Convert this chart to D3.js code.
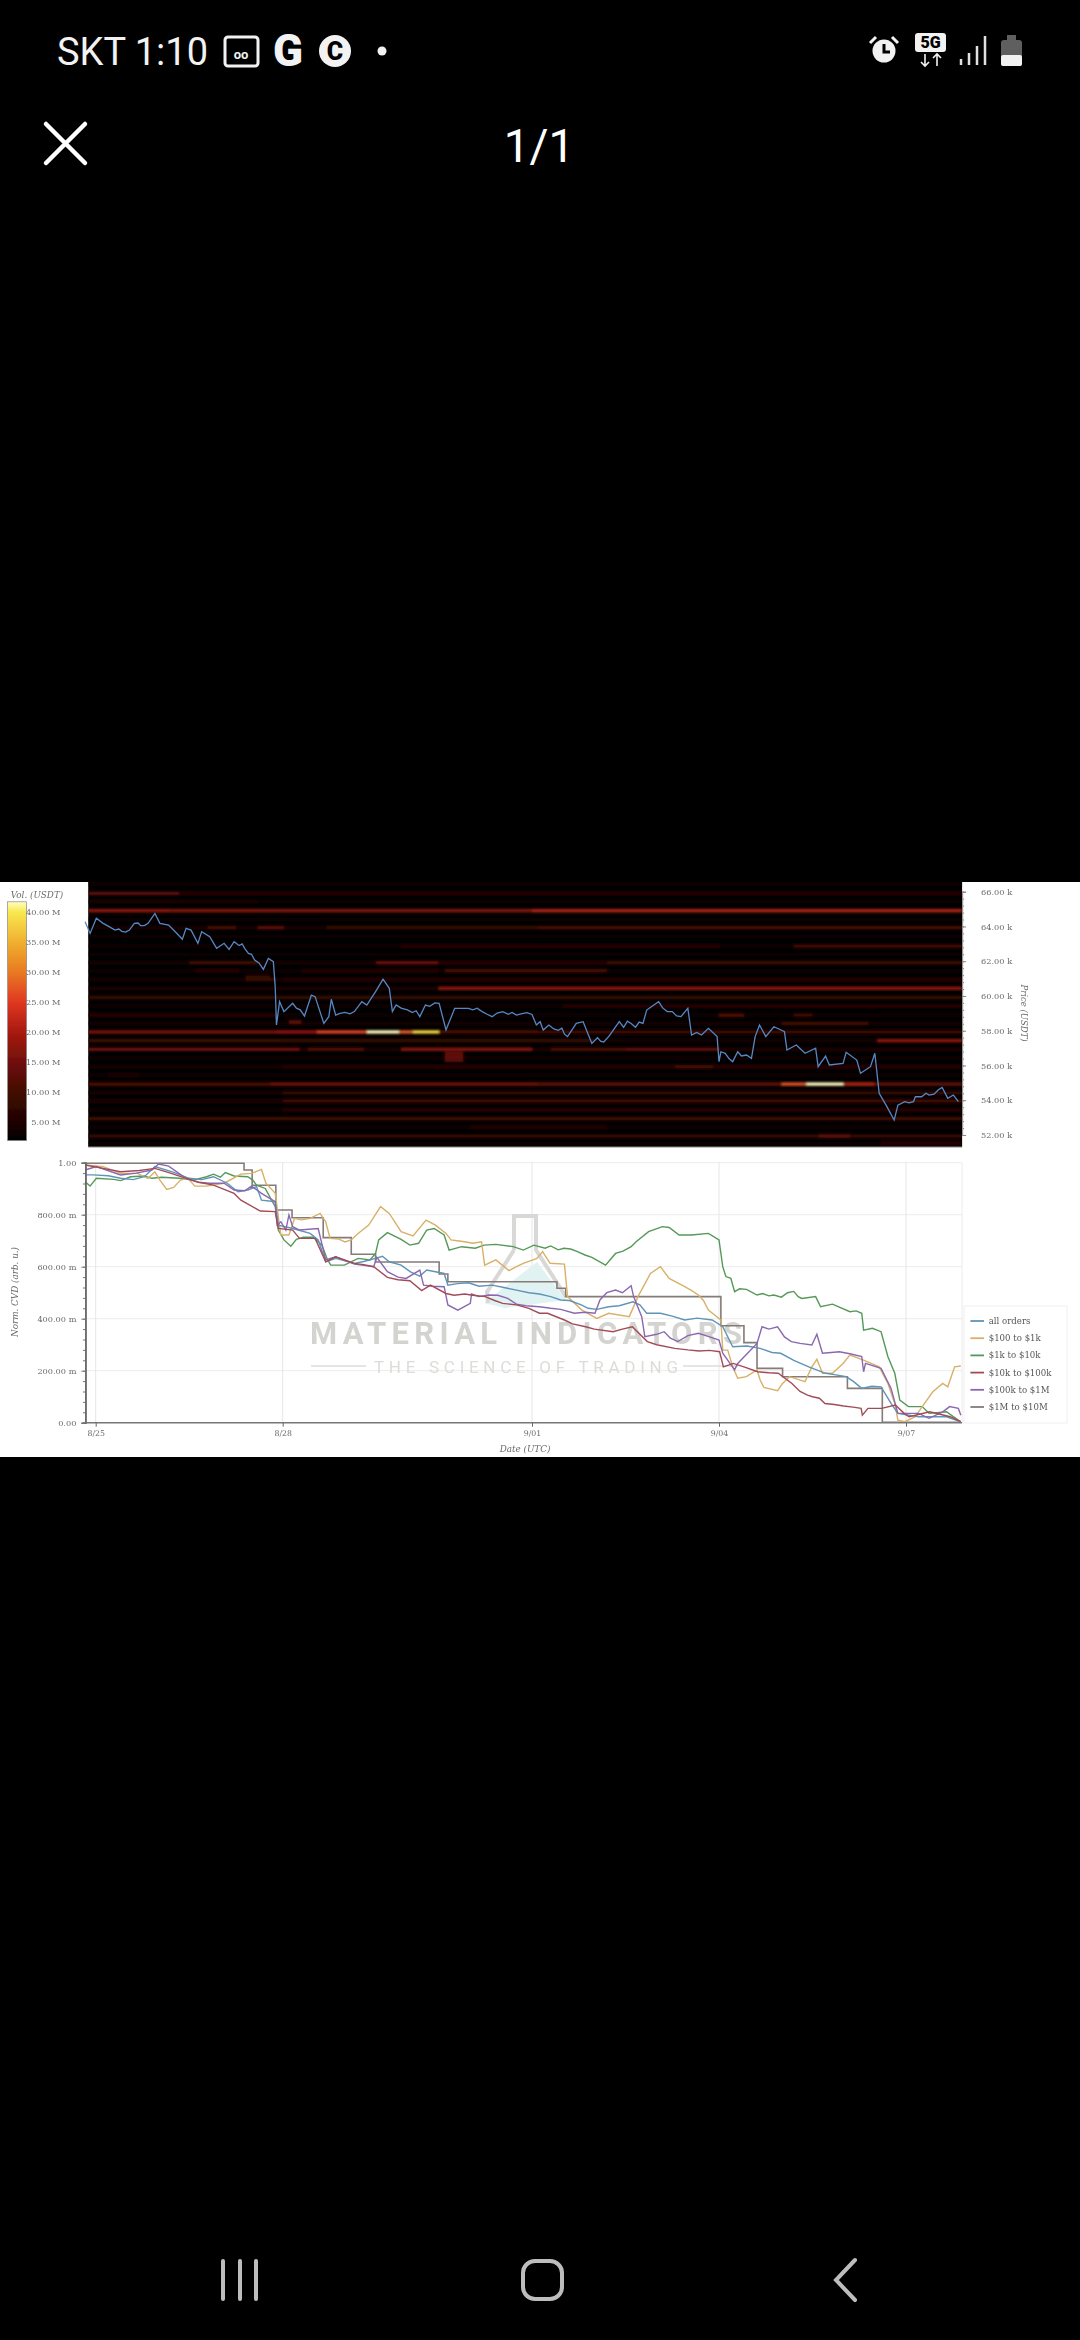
<!DOCTYPE html>
<html><head><meta charset="utf-8">
<script src="https://cdn.jsdelivr.net/npm/d3@7/dist/d3.min.js"></script>
<style>html,body{margin:0;padding:0;background:#000}svg{display:block}</style></head>
<body><svg id="c" width="1080" height="2340"></svg>
<script>
// ---------- data ----------
const dayTicks=[0,3,7,10,13];
const dayLabels=["8/25","8/28","9/01","9/04","9/07"];
const priceTicks=[52,54,56,58,60,62,64,66];
const volTicks=[5,10,15,20,25,30,35,40];
const cvdTicks=[0,.2,.4,.6,.8,1];
const cvdLabels=["0.00","200.00 m","400.00 m","600.00 m","800.00 m","1.00"];
const seriesNames=["all orders","$100 to $1k","$1k to $10k","$10k to $100k","$100k to $1M","$1M to $10M"];
const seriesColors=["#5f93b8","#d8b068","#559858","#a24c58","#8a68b0","#857b79"];
const colorStops=[0,5,10,15,20,25,30,35,40,41.7];
const colorValues=["#000000","#1e0402","#420a05","#701008","#a81a10","#e03820","#e87a20","#efb030","#f8e850","#ffffc0"];

const price=[[-.17,64.27],[-.09,63.6],[.01,64.47],[.12,64.18],[.2,64.02],[.31,63.79],[.37,63.85],[.42,63.72],[.48,63.68],[.54,63.79],[.62,64.18],[.68,64.2],[.72,64.05],[.78,64.05],[.84,64.18],[.95,64.75],[1.03,64.18],[1.17,64.08],[1.28,63.68],[1.39,63.26],[1.45,63.89],[1.53,63.79],[1.64,63.03],[1.7,63.7],[1.83,63.41],[1.94,62.74],[2.06,63.03],[2.14,62.68],[2.22,63.12],[2.3,62.9],[2.35,63],[2.39,62.74],[2.45,62.45],[2.5,62.4],[2.55,62.07],[2.62,61.9],[2.69,61.53],[2.77,62.16],[2.85,61.97],[2.88,60.53],[2.9,58.33],[2.95,59.67],[3.02,59.1],[3.16,59.58],[3.22,59.3],[3.28,59.2],[3.35,58.85],[3.46,60.05],[3.52,59.96],[3.66,58.42],[3.74,58.81],[3.78,59.81],[3.85,58.9],[3.92,59],[4,59.05],[4.08,58.97],[4.15,59.1],[4.27,59.67],[4.35,59.48],[4.49,60.25],[4.61,60.97],[4.71,60.44],[4.76,59.1],[4.82,59.48],[4.9,59.3],[5,59.2],[5.08,59.05],[5.14,59.15],[5.2,58.81],[5.29,59.48],[5.36,59.4],[5.44,59.6],[5.51,59.58],[5.62,58.04],[5.76,59.29],[5.98,59.29],[6.05,59.2],[6.12,59.3],[6.2,59.1],[6.28,58.95],[6.36,58.81],[6.44,59.02],[6.53,59.1],[6.62,58.95],[6.68,59.05],[6.75,58.9],[6.84,58.98],[6.92,59.04],[7,58.94],[7.07,58.33],[7.13,58.52],[7.18,58.04],[7.27,58.33],[7.35,58.1],[7.42,58.02],[7.48,58.15],[7.52,57.8],[7.57,57.66],[7.71,58.42],[7.82,58.52],[7.96,57.27],[8.05,57.6],[8.1,57.4],[8.15,57.35],[8.23,57.66],[8.4,58.52],[8.47,58.2],[8.53,58.55],[8.59,58.42],[8.66,58.2],[8.72,58.5],[8.78,58.42],[8.84,59.19],[9.03,59.67],[9.1,59.3],[9.17,59.1],[9.25,59.1],[9.32,58.85],[9.39,58.81],[9.5,59.29],[9.56,57.75],[9.64,57.9],[9.72,57.75],[9.83,58.14],[9.97,57.66],[10,56.22],[10.03,56.79],[10.1,56.7],[10.16,56.4],[10.22,56.22],[10.3,56.79],[10.36,56.55],[10.44,56.6],[10.52,56.41],[10.58,57.66],[10.65,58.33],[10.75,57.66],[10.88,58.23],[10.96,58.1],[11.05,57.94],[11.09,56.89],[11.24,57.18],[11.38,56.7],[11.55,56.99],[11.59,55.93],[11.71,56.54],[11.77,56.03],[11.99,56.12],[12.04,56.76],[12.21,56.31],[12.27,55.55],[12.43,55.93],[12.5,56.7],[12.57,54.4],[12.68,53.72],[12.81,52.86],[12.87,53.72],[12.98,53.92],[13.05,53.85],[13.12,53.92],[13.15,54.2],[13.25,54.2],[13.32,54.4],[13.37,54.3],[13.45,54.35],[13.52,54.6],[13.58,54.74],[13.67,54.11],[13.76,54.3],[13.84,53.92]];

// faint rows that run the whole width of the heatmap
const heatLevels=[66.44,65.9,65.42,64.91,64.4,63.93,63.4,62.87,62.4,61.91,61.45,60.94,60.44,59.92,59.42,58.9,58.42,57.93,57.43,56.93,56.41,55.93,55.45,54.93,54.43,53.96,53.44,52.94,52.44,51.94,51.52];
const heatBaseVol=[3,4,2.5,6,2,4,2,3.5,2,4,3,4,5,4,3,3.5,3,6,3.5,5,3,4,2.5,6,4,5,3.5,5,3,5,2.5];
// [price level, from day, to day, volume in millions]
const heatSegments=[[65.9,-.12,1.34,13],[65.9,1.34,13.9,7],[65.42,-.12,2.6,5],[64.91,-.12,1.2,18],[64.91,1.2,7,17],[64.91,7,13.9,21],[63.93,1.8,2.25,11],[63.93,2.6,3.02,13],[63.93,3.7,7.1,8],[63.93,7.1,13.9,11],[62.87,4.9,10,7],[62.87,11.2,13.9,10],[61.91,1.5,2.6,10],[61.91,4.5,5.5,15],[61.91,5.5,8.2,7],[61.91,8.2,13.9,9],[61.45,1.6,2.3,7],[61.45,3.3,5.5,6],[61.45,5.6,8.2,11],[61.1,2.4,2.8,8],[60.94,2.4,2.9,8],[60.94,3,13.9,7],[60.44,5.5,13.9,18],[59.92,-.12,3,8],[59.92,3,13.9,8],[59.42,7.5,13.9,7],[58.9,-.12,2.9,7],[58.9,10,10.4,12],[58.9,11.2,11.5,10],[58.42,11,12.4,10],[58.5,3.1,3.3,14],[57.93,-.12,2.88,16],[57.93,2.88,3.55,18],[57.93,3.55,4.35,26],[57.93,4.35,4.87,41.7],[57.93,4.87,5.09,28],[57.93,5.09,5.51,39],[57.93,5.51,7.1,11],[57.93,7.1,13.9,9],[57.43,-.12,3,9],[57.43,3,8,8],[57.43,12.54,13.9,18],[56.93,-.12,3.27,15],[56.93,3.4,4.3,12],[56.93,4.9,7,17],[56.93,7.3,8.5,11],[56.93,8.5,10,13],[56.7,5.6,5.9,14],[56.5,5.6,5.9,14],[56.3,5.6,5.9,13],[55.93,3,13.9,7],[55.93,9.3,9.9,11],[55.45,.2,.7,5],[54.93,-.12,2.8,11],[54.93,2.8,7.1,15],[54.93,7.1,11,13],[54.93,11,11.4,27],[54.93,11.4,12,41.7],[54.93,12,12.5,21],[54.93,12.5,13.9,13],[54.43,3,13.9,8],[53.96,3,13.9,10],[53.44,3,13.9,7],[52.94,-.12,13.9,10],[52.44,6,8.2,6],[51.94,-.12,13.9,8],[51.94,11.6,12.1,13],[51.52,12.6,13.9,7]];

const cvdAll=[[-.17,.953],[-.04,.953],[.2,.95],[.4,.94],[.6,.935],[.78,.946],[.95,.985],[1.23,.965],[1.5,.94],[1.7,.935],[1.89,.946],[2.11,.921],[2.28,.888],[2.44,.895],[2.58,.908],[2.66,.856],[2.88,.85],[2.93,.76],[3.16,.747],[3.44,.728],[3.57,.703],[3.69,.619],[3.85,.632],[4.15,.613],[4.3,.62],[4.49,.632],[4.6,.64],[4.71,.619],[4.9,.606],[5.05,.58],[5.2,.564],[5.31,.587],[5.59,.574],[5.65,.529],[5.8,.535],[5.98,.538],[6.15,.525],[6.36,.529],[6.55,.52],[6.75,.51],[6.95,.5],[7.12,.495],[7.3,.485],[7.46,.472],[7.6,.47],[7.79,.453],[7.9,.44],[8.04,.436],[8.23,.446],[8.4,.45],[8.62,.465],[8.73,.453],[8.84,.421],[9.06,.421],[9.25,.41],[9.45,.395],[9.65,.402],[9.89,.395],[10.06,.369],[10.22,.292],[10.45,.295],[10.66,.286],[10.85,.27],[10.99,.267],[11.2,.24],[11.44,.215],[11.71,.19],[11.85,.185],[12.04,.177],[12.15,.16],[12.29,.132],[12.45,.14],[12.6,.138],[12.76,.074],[12.87,.036],[13.2,.023],[13.65,.023],[13.87,.004]];
const cvd100=[[-.17,.991],[.12,.985],[.4,.959],[.67,.959],[.84,.94],[.95,.965],[1.03,.933],[1.14,.897],[1.25,.905],[1.36,.933],[1.48,.94],[1.59,.91],[1.78,.91],[2.06,.921],[2.33,.956],[2.5,.959],[2.66,.974],[2.73,.921],[2.88,.882],[2.93,.792],[2.97,.722],[3.1,.722],[3.19,.786],[3.3,.78],[3.44,.786],[3.6,.805],[3.69,.773],[3.76,.709],[3.9,.706],[4,.695],[4.1,.703],[4.21,.728],[4.38,.76],[4.57,.831],[4.71,.805],[4.9,.735],[5.09,.718],[5.3,.779],[5.45,.76],[5.62,.728],[5.7,.703],[5.8,.7],[5.92,.696],[6.05,.69],[6.19,.696],[6.24,.606],[6.42,.626],[6.63,.585],[6.75,.6],[6.86,.613],[7.08,.632],[7.17,.658],[7.29,.613],[7.52,.61],[7.57,.485],[7.8,.433],[8.04,.401],[8.23,.421],[8.56,.408],[8.7,.485],[8.9,.574],[9.06,.6],[9.2,.555],[9.45,.523],[9.55,.51],[9.67,.491],[9.75,.47],[9.83,.433],[10.03,.395],[10.06,.279],[10.14,.279],[10.22,.215],[10.3,.171],[10.44,.177],[10.61,.203],[10.66,.164],[10.72,.136],[10.94,.123],[11.02,.151],[11.13,.177],[11.38,.158],[11.49,.215],[11.57,.244],[11.66,.19],[11.82,.19],[11.99,.228],[12.1,.26],[12.32,.241],[12.57,.215],[12.71,.151],[12.82,.074],[12.87,.01],[12.98,.004],[13.15,.023],[13.26,.062],[13.43,.119],[13.59,.151],[13.67,.138],[13.78,.215],[13.88,.218]];
const cvd1k=[[-.17,.927],[-.09,.91],[.01,.94],[.29,.936],[.4,.931],[.56,.946],[.78,.949],[.9,.94],[1.06,.944],[1.34,.94],[1.56,.933],[1.78,.946],[1.89,.956],[2,.944],[2.08,.962],[2.22,.949],[2.44,.946],[2.52,.933],[2.58,.914],[2.72,.901],[2.88,.831],[2.93,.741],[3.02,.703],[3.13,.679],[3.22,.705],[3.33,.713],[3.49,.713],[3.63,.683],[3.71,.632],[3.77,.606],[3.91,.606],[3.99,.606],[4.21,.632],[4.4,.626],[4.49,.651],[4.54,.703],[4.68,.731],[4.9,.705],[5.04,.683],[5.18,.69],[5.31,.741],[5.43,.747],[5.59,.722],[5.67,.664],[5.87,.677],[6.09,.671],[6.23,.683],[6.42,.686],[6.7,.677],[6.86,.664],[7.03,.683],[7.21,.671],[7.3,.68],[7.42,.665],[7.51,.671],[7.62,.668],[7.73,.658],[7.85,.645],[7.96,.636],[8.18,.606],[8.34,.651],[8.46,.66],[8.59,.677],[8.67,.696],[8.87,.735],[9.09,.754],[9.2,.751],[9.36,.722],[9.56,.722],[9.83,.728],[10,.703],[10.06,.6],[10.11,.562],[10.19,.555],[10.25,.504],[10.33,.515],[10.44,.513],[10.61,.491],[10.7,.497],[10.8,.488],[10.88,.491],[11,.483],[11.1,.5],[11.2,.505],[11.27,.485],[11.33,.478],[11.55,.485],[11.63,.446],[11.82,.456],[12.1,.427],[12.2,.43],[12.29,.421],[12.32,.356],[12.46,.363],[12.6,.35],[12.71,.254],[12.82,.19],[12.9,.087],[13.04,.062],[13.26,.062],[13.37,.036],[13.65,.042],[13.87,.004]];
const cvd10k=[[-.17,.991],[.12,.978],[.4,.965],[.7,.97],[.95,.978],[1.2,.96],[1.45,.94],[1.65,.925],[1.89,.914],[2.22,.882],[2.33,.856],[2.64,.814],[2.88,.812],[2.93,.747],[3.16,.741],[3.27,.709],[3.52,.709],[3.69,.619],[3.85,.638],[4.15,.613],[4.3,.608],[4.46,.6],[4.68,.559],[4.85,.55],[5.04,.546],[5.23,.508],[5.37,.529],[5.62,.497],[5.75,.49],[5.92,.495],[6.05,.49],[6.25,.485],[6.4,.47],[6.53,.459],[6.75,.453],[6.95,.44],[7.12,.421],[7.25,.421],[7.52,.395],[7.65,.38],[7.86,.369],[8,.36],[8.3,.35],[8.45,.36],[8.61,.369],[8.85,.312],[9,.3],[9.29,.286],[9.5,.28],[9.68,.276],[9.85,.278],[10.01,.273],[10.07,.215],[10.23,.228],[10.4,.215],[10.62,.196],[10.8,.192],[10.95,.19],[11.17,.151],[11.3,.12],[11.42,.106],[11.5,.1],[11.61,.094],[11.7,.074],[11.85,.07],[12,.064],[12.15,.06],[12.28,.055],[12.3,.029],[12.39,.055],[12.61,.055],[12.83,.068],[12.97,.036],[13.05,.023],[13.38,.042],[13.71,.023],[13.88,.004]];
const cvd100k=[[-.17,.972],[.01,.985],[.4,.953],[.65,.96],[.9,.972],[1.01,.995],[1.17,.987],[1.45,.94],[1.65,.925],[1.83,.921],[2.06,.921],[2.22,.895],[2.39,.892],[2.5,.91],[2.66,.882],[2.88,.85],[2.91,.76],[2.97,.773],[3.05,.741],[3.1,.799],[3.16,.754],[3.27,.741],[3.57,.747],[3.69,.626],[3.85,.638],[4.15,.61],[4.3,.605],[4.46,.6],[4.51,.636],[4.68,.581],[4.85,.56],[4.98,.555],[5.2,.587],[5.26,.529],[5.4,.525],[5.59,.523],[5.65,.453],[5.81,.433],[6.01,.459],[6.03,.495],[6.15,.485],[6.31,.491],[6.45,.49],[6.61,.478],[6.75,.456],[6.9,.45],[7.12,.446],[7.3,.44],[7.46,.436],[7.68,.421],[7.85,.425],[8.01,.421],[8.09,.472],[8.2,.5],[8.34,.51],[8.45,.5],[8.59,.527],[8.63,.485],[8.76,.408],[8.81,.331],[9,.34],[9.12,.35],[9.22,.325],[9.34,.312],[9.5,.335],[9.67,.344],[9.85,.33],[10,.318],[10.06,.267],[10.25,.203],[10.3,.228],[10.61,.305],[10.69,.369],[10.8,.36],[10.94,.369],[11.05,.33],[11.16,.312],[11.3,.305],[11.49,.299],[11.57,.34],[11.66,.267],[11.8,.27],[11.93,.273],[12.1,.265],[12.29,.254],[12.32,.196],[12.35,.228],[12.6,.209],[12.76,.132],[12.87,.036],[13.2,.036],[13.37,.017],[13.59,.042],[13.7,.062],[13.84,.055],[13.88,.029]];
const cvd1m=[[-.17,.998],[2.38,.972],[2.51,.913],[2.89,.818],[3.15,.788],[3.65,.712],[4.1,.648],[4.49,.618],[5.51,.572],[5.65,.542],[7.4,.517],[7.54,.485],[10.03,.373],[10.4,.308],[10.61,.209],[11.02,.177],[12.06,.132],[12.62,.002],[13.88,.002]];

// ---------- scales ----------
const x=d3.scaleLinear().domain([0,13]).range([95.7,906]);
const yP=d3.scaleLinear().domain([52,66]).range([1135,891.7]);
const yC=d3.scaleLinear().domain([0,1]).range([1422.7,1162.7]);
const yV=d3.scaleLinear().domain([5,40]).range([1122,912]);
const color=d3.scaleLinear().domain(colorStops).range(colorValues).clamp(true);
const serif='"DejaVu Serif",serif', txt="#6a6a6a";

const svg=d3.select("#c");
const defs=svg.append("defs");
defs.append("filter").attr("id","soft").attr("filterUnits","userSpaceOnUse").attr("x",0).attr("y",870).attr("width",1080).attr("height",600)
  .append("feGaussianBlur").attr("stdDeviation",.5);
defs.append("filter").attr("id","soft2").attr("filterUnits","userSpaceOnUse").attr("x",0).attr("y",870).attr("width",1080).attr("height",300)
  .append("feGaussianBlur").attr("stdDeviation",.9);
const grad=defs.append("linearGradient").attr("id","volBar").attr("x1",0).attr("x2",0).attr("y1",1).attr("y2",0);
grad.selectAll("stop").data(colorStops.filter(d=>d>=0)).join("stop")
  .attr("offset",d=>Math.max(0,(d-1.9)/(41.7-1.9))).attr("stop-color",d=>color(d));
svg.append("rect").attr("width",1080).attr("height",2340).attr("fill","#000");

// ---------- reference picture area ----------
const chart=svg.append("g").attr("filter","url(#soft)");
chart.append("rect").attr("x",0).attr("y",882).attr("width",1080).attr("height",575).attr("fill","#fff");

// heatmap
const hx0=x(-.12),hx1=x(13.9);
chart.append("rect").attr("x",hx0).attr("y",882).attr("width",hx1-hx0).attr("height",265).attr("fill","#060000");
const heatClip=defs.append("clipPath").attr("id","heatClip").append("rect").attr("x",hx0).attr("y",882).attr("width",hx1-hx0).attr("height",265);
const heat=chart.append("g").attr("clip-path","url(#heatClip)").append("g").attr("filter","url(#soft2)");
heat.selectAll("rect.base").data(heatLevels).join("rect").attr("class","base")
  .attr("x",hx0).attr("width",hx1-hx0)
  .attr("y",d=>yP(d)-1.6).attr("height",3.2).attr("fill",(d,i)=>color(heatBaseVol[i]));
heat.selectAll("rect.seg").data(heatSegments).join("rect").attr("class","seg")
  .attr("x",d=>x(d[1])).attr("width",d=>x(d[2])-x(d[1]))
  .attr("y",d=>yP(d[0])-1.6).attr("height",3.2).attr("fill",d=>color(d[3]));
chart.append("path").attr("d",d3.line().x(d=>x(d[0])).y(d=>yP(d[1]))(price))
  .attr("fill","none").attr("stroke","#5488c4").attr("stroke-width",1.3);
chart.append("line").attr("x1",hx0).attr("x2",hx1).attr("y1",1147).attr("y2",1147).attr("stroke","#888").attr("stroke-width",1);

// price axis
const pAxis=chart.append("g").attr("transform",`translate(${hx1},0)`);
pAxis.call(d3.axisRight(yP).tickValues(d3.range(52,66.01,.4)).tickSize(2).tickFormat(""));
pAxis.append("g").call(d3.axisRight(yP).tickValues(priceTicks).tickSize(4).tickFormat(d=>d3.format(".2f")(d)+" k"));
pAxis.selectAll("path.domain").attr("stroke","#999");
pAxis.selectAll("line").attr("stroke","#888");
pAxis.selectAll("text").attr("x",19).attr("fill",txt).attr("font-family",serif).attr("font-size",8.2).attr("font-weight",500);
chart.append("text").attr("transform","translate(1021,1013) rotate(90)").attr("text-anchor","middle")
  .attr("font-family",serif).attr("font-style","italic").attr("font-size",8.5).attr("fill",txt).text("Price (USDT)");

// colour bar
const bar=chart.append("g");
bar.append("rect").attr("x",7.6).attr("width",19).attr("y",yV(41.7)).attr("height",yV(1.9)-yV(41.7)).attr("fill","url(#volBar)").attr("stroke","#888").attr("stroke-width",.7);
bar.selectAll("text").data(volTicks).join("text").attr("x",60.5).attr("y",d=>yV(d)+3).attr("text-anchor","end")
  .attr("font-family",serif).attr("font-size",8.2).attr("font-weight",500).attr("fill",txt).text(d=>d3.format(".2f")(d)+" M");
chart.append("text").attr("x",37).attr("y",898).attr("text-anchor","middle").attr("font-family",serif).attr("font-style","italic").attr("font-size",8.8).attr("fill",txt).text("Vol. (USDT)");

// lower chart grid
const gridG=chart.append("g");
gridG.selectAll("line.h").data(cvdTicks).join("line").attr("class","h").attr("x1",85.4).attr("x2",hx1).attr("y1",d=>yC(d)).attr("y2",d=>yC(d)).attr("stroke","#ececec");
gridG.selectAll("line.v").data(dayTicks).join("line").attr("class","v").attr("x1",d=>x(d)).attr("x2",d=>x(d)).attr("y1",yC(1)).attr("y2",yC(0)).attr("stroke","#e6e6e6");
gridG.append("line").attr("x1",hx1).attr("x2",hx1).attr("y1",yC(1)).attr("y2",yC(0)).attr("stroke","#ececec");

// watermark
const wm=chart.append("g");
wm.append("path").attr("d","M484 1303 L537 1262 L566 1300 L505 1308 Z").attr("fill","#e0f2f2");
wm.append("path").attr("d","M514 1250 L514 1216 L536 1216 L536 1250 L566 1297 M514 1250 L487 1292 L488 1303").attr("fill","none").attr("stroke","#d8d8d6").attr("stroke-width",4);
wm.append("text").attr("x",310).attr("y",1344).attr("textLength",432).attr("lengthAdjust","spacing").attr("font-family","Roboto").attr("font-weight",700).attr("font-size",31).attr("fill","#d3d3cf").text("MATERIAL INDICATORS");
wm.append("text").attr("x",374).attr("y",1373).attr("textLength",304).attr("lengthAdjust","spacing").attr("font-family","Roboto").attr("font-size",17).attr("fill","#dcdcd9").text("THE SCIENCE OF TRADING");
wm.append("line").attr("x1",311).attr("x2",366).attr("y1",1366).attr("y2",1366).attr("stroke","#dcdcd9").attr("stroke-width",1.5);
wm.append("line").attr("x1",683).attr("x2",738).attr("y1",1366).attr("y2",1366).attr("stroke","#dcdcd9").attr("stroke-width",1.5);

// lines
const line=d3.line().x(d=>x(d[0])).y(d=>yC(d[1]));
const stepLine=d3.line().curve(d3.curveStepAfter).x(d=>x(d[0])).y(d=>yC(d[1]));
chart.append("path").attr("d",stepLine(cvd1m)).attr("fill","none").attr("stroke",seriesColors[5]).attr("stroke-width",1.6);
[[cvd1k,2],[cvd100,1],[cvdAll,0],[cvd100k,4],[cvd10k,3]].forEach(([s,i])=>{
  chart.append("path").attr("d",line(s)).attr("fill","none").attr("stroke",seriesColors[i]).attr("stroke-width",1.4);
});

// lower axes
const lAxis=chart.append("g").attr("transform","translate(85.4,0)");
lAxis.call(d3.axisLeft(yC).tickValues(d3.range(0,1.001,.04)).tickSize(2.5).tickFormat(""));
const lMaj=lAxis.append("g").call(d3.axisLeft(yC).tickValues(cvdTicks).tickSize(4).tickFormat((d,i)=>cvdLabels[i]));
lAxis.selectAll("path.domain").attr("stroke","#666").attr("stroke-width",1.4);
lAxis.selectAll("line").attr("stroke","#777");
lMaj.selectAll("text").attr("x",-9).attr("fill",txt).attr("font-family",serif).attr("font-size",8.2).attr("font-weight",500);
const bAxis=chart.append("g").attr("transform",`translate(0,${yC(0)})`);
bAxis.call(d3.axisBottom(x).tickValues(dayTicks).tickSize(4).tickSizeOuter(0).tickFormat((d,i)=>dayLabels[i]));
bAxis.select("path.domain").attr("d",`M85.4,0H${hx1}`).attr("stroke","#777").attr("stroke-width",1.6);
bAxis.selectAll("line").attr("stroke","#666");
bAxis.selectAll("text").attr("y",8).attr("fill",txt).attr("font-family",serif).attr("font-size",7.8).attr("font-weight",500);
chart.append("text").attr("transform","translate(18,1292) rotate(-90)").attr("text-anchor","middle").attr("font-family",serif).attr("font-style","italic").attr("font-size",8.8).attr("fill",txt).text("Norm. CVD (arb. u.)");
chart.append("text").attr("x",525).attr("y",1452).attr("text-anchor","middle").attr("font-family",serif).attr("font-style","italic").attr("font-size",8.8).attr("fill",txt).text("Date (UTC)");

// legend
const lg=chart.append("g");
lg.append("rect").attr("x",964).attr("y",1306).attr("width",103).attr("height",117).attr("fill","#fff").attr("stroke","#f0f0f0");
const ly=d3.scalePoint().domain(seriesNames).range([1321,1407]);
seriesNames.forEach((n,i)=>{
  lg.append("line").attr("x1",970.4).attr("x2",984).attr("y1",ly(n)).attr("y2",ly(n)).attr("stroke",seriesColors[i]).attr("stroke-width",1.8);
  lg.append("text").attr("x",988.7).attr("y",ly(n)+3).attr("font-family",serif).attr("font-size",8.6).attr("font-weight",500).attr("fill","#555").text(n);
});

// ---------- phone chrome ----------
const ui=svg.append("g").attr("fill","#f2f2f2");
ui.append("text").attr("x",57).attr("y",65).attr("font-family","Roboto").attr("font-size",38).text("SKT 1:10");
ui.append("rect").attr("x",225).attr("y",37).attr("width",33).attr("height",29).attr("rx",3).attr("fill","none").attr("stroke","#f2f2f2").attr("stroke-width",3);
ui.append("text").attr("x",241).attr("y",59).attr("text-anchor","middle").attr("font-family","Roboto").attr("font-weight",700).attr("font-size",13).text("oo");
ui.append("text").attr("x",288).attr("y",66).attr("text-anchor","middle").attr("font-family","Roboto").attr("font-weight",900).attr("font-size",44).text("G");
ui.append("circle").attr("cx",335).attr("cy",51).attr("r",16);
ui.append("text").attr("x",335).attr("y",60).attr("text-anchor","middle").attr("font-family","Roboto").attr("font-weight",900).attr("font-size",25).attr("fill","#000").text("C");
ui.append("circle").attr("cx",382).attr("cy",51).attr("r",4.5);
ui.append("circle").attr("cx",884).attr("cy",51).attr("r",11.5);
ui.append("path").attr("d","M884 44 V52 H890").attr("fill","none").attr("stroke","#000").attr("stroke-width",3);
ui.append("path").attr("d","M870 43 L876 37 M898 43 L892 37").attr("stroke","#f2f2f2").attr("stroke-width",3);
ui.append("rect").attr("x",915).attr("y",33).attr("width",31).attr("height",19).attr("rx",3);
ui.append("text").attr("x",930.5).attr("y",48).attr("text-anchor","middle").attr("font-family","Roboto").attr("font-weight",900).attr("font-size",16).attr("fill","#000").text("5G");
ui.append("path").attr("d","M925 54 V66 M921 62 L925 66 L929 62 M937 66 V54 M933 58 L937 54 L941 58").attr("fill","none").attr("stroke","#f2f2f2").attr("stroke-width",1.6);
ui.append("path").attr("d","M961 65 V59 M969 65 V53 M977 65 V46 M985 65 V36").attr("stroke","#e0e0e0").attr("stroke-width",2.5);
ui.append("rect").attr("x",1001).attr("y",40).attr("width",21).attr("height",26).attr("rx",3).attr("fill","#5f5f5f");
ui.append("rect").attr("x",1007).attr("y",35).attr("width",9).attr("height",5).attr("fill","#5f5f5f");
ui.append("rect").attr("x",1001).attr("y",55).attr("width",21).attr("height",11).attr("rx",2).attr("fill","#f2f2f2");
ui.append("path").attr("d","M46 124 L85 163 M85 124 L46 163").attr("stroke","#fff").attr("stroke-width",4.5).attr("stroke-linecap","round");
ui.append("text").attr("x",539).attr("y",162).attr("text-anchor","middle").attr("font-family","Roboto").attr("font-size",46).attr("fill","#fff").text("1/1");
const nav=svg.append("g").attr("fill","none").attr("stroke","#bdbdbd").attr("stroke-width",4).attr("stroke-linecap","round");
nav.append("path").attr("d","M223 2261 V2299 M240 2261 V2299 M256 2261 V2299");
nav.append("rect").attr("x",523).attr("y",2261).attr("width",39).attr("height",38).attr("rx",12);
nav.append("path").attr("d","M855 2260 L836 2280 L855 2300");
</script></body></html>
